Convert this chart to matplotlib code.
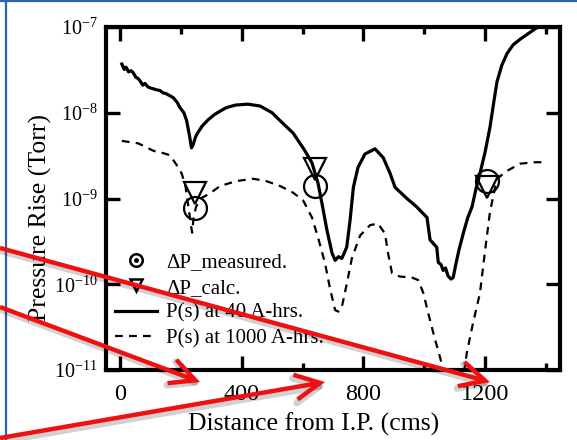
import numpy as np
import matplotlib
matplotlib.use("Agg")
import matplotlib.pyplot as plt
from matplotlib.lines import Line2D
from matplotlib.patches import FancyArrowPatch
from matplotlib.legend_handler import HandlerTuple
from matplotlib.ticker import MultipleLocator, LogLocator, NullLocator

plt.rcParams['font.family'] = ['Liberation Serif', 'DejaVu Serif']
plt.rcParams['mathtext.fontset'] = 'custom'
plt.rcParams['mathtext.rm'] = 'Liberation Serif'

# P(s) at 40 A-hrs (solid)
x40 = [6, 14, 20, 28, 36, 43, 52, 60, 66, 75, 82, 92, 99, 110, 120, 131, 142, 150,
       164, 175, 188, 197, 210, 219, 228, 235, 240, 248, 255, 270, 290, 310, 330,
       350, 380, 420, 460, 500, 526, 569, 608, 631, 651, 664, 680, 697, 707, 718,
       729, 745, 756, 767, 782, 805, 838, 865, 888, 904, 943, 975, 1009, 1019,
       1041, 1046, 1055, 1062, 1070, 1078, 1088, 1095, 1105, 1115, 1128, 1143,
       1157, 1170, 1183, 1200, 1216, 1228, 1239, 1255, 1272, 1292, 1315, 1340,
       1364, 1390]
p40 = [3.7e-8, 3.2e-8, 3.4e-8, 3.0e-8, 3.1e-8, 2.95e-8, 2.6e-8, 2.5e-8, 2.35e-8,
       2.1e-8, 2.2e-8, 2.0e-8, 1.95e-8, 1.9e-8, 1.85e-8, 1.82e-8, 1.7e-8, 1.68e-8,
       1.58e-8, 1.5e-8, 1.32e-8, 1.15e-8, 1.0e-8, 8.1e-9, 5.5e-9, 3.9e-9, 4.2e-9,
       5.2e-9, 5.8e-9, 7.0e-9, 8.3e-9, 9.5e-9, 1.05e-8, 1.15e-8, 1.23e-8, 1.26e-8,
       1.2e-8, 1.0e-8, 8.1e-9, 5.8e-9, 3.6e-9, 2.6e-9, 1.5e-9, 8.7e-10, 4.3e-10,
       2.3e-10, 1.9e-10, 2.1e-10, 2.0e-10, 2.7e-10, 5.5e-10, 1.35e-9, 2.3e-9,
       3.3e-9, 3.8e-9, 3.0e-9, 1.95e-9, 1.35e-9, 1.0e-9, 8.0e-10, 6.0e-10, 3.3e-10,
       2.7e-10, 1.8e-10, 1.7e-10, 1.45e-10, 1.55e-10, 1.25e-10, 1.15e-10, 1.2e-10,
       1.8e-10, 2.6e-10, 3.9e-10, 6.0e-10, 8.0e-10, 1.3e-9, 1.95e-9, 3.5e-9, 6.8e-9,
       1.3e-8, 2.3e-8, 3.6e-8, 4.9e-8, 6.2e-8, 7.2e-8, 8.3e-8, 9.5e-8, 1.08e-7]

# P(s) at 1000 A-hrs (dashed)
x1000 = [6, 60, 110, 140, 164, 185, 203, 215, 225, 233, 237, 242, 250, 265, 296,
         329, 384, 438, 480, 526, 569, 602, 631, 651, 674, 690, 707, 718, 729, 745,
         762, 789, 822, 848, 871, 881, 894, 920, 959, 980, 997, 1013, 1035, 1052,
         1065, 1095, 1130, 1140, 1160, 1183, 1200, 1216, 1225, 1239, 1272, 1315,
         1364, 1400]
p1000 = [4.7e-9, 4.4e-9, 3.6e-9, 3.4e-9, 3.2e-9, 2.5e-9, 1.95e-9, 1.4e-9, 8e-10,
         5e-10, 4.0e-10, 6e-10, 8e-10, 1.0e-9, 1.15e-9, 1.4e-9, 1.6e-9, 1.7e-9,
         1.6e-9, 1.4e-9, 1.17e-9, 9.5e-10, 6e-10, 3.5e-10, 1.75e-10, 9e-11, 5e-11,
         4.8e-11, 5.4e-11, 1.0e-10, 2.0e-10, 3.7e-10, 4.9e-10, 5.1e-10, 3.9e-10,
         2.3e-10, 1.35e-10, 1.23e-10, 1.2e-10, 1.12e-10, 7.9e-11, 4.6e-11, 2.3e-11,
         1.4e-11, 9e-12, 5e-12, 9e-12, 1.6e-11, 3.5e-11, 7.9e-11, 2.5e-10, 7.0e-10,
         1.0e-9, 1.7e-9, 2.1e-9, 2.55e-9, 2.65e-9, 2.65e-9]

# point markers
x_meas = [245, 641, 1206]
p_meas = [7.7e-10, 1.4e-9, 1.6e-9]
x_calc = [245, 641, 1206]
p_calc = [1.15e-9, 2.2e-9, 1.35e-9]

labels = ['\u0394P_measured.', '\u0394P_calc.', 'P(s) at 40 A-hrs.', 'P(s) at 1000 A-hrs.']
xtick_major = [0, 400, 800, 1200]

fig = plt.figure(figsize=(5.77, 4.40), dpi=100)
ax = fig.add_axes([0.1837, 0.159, 0.7868, 0.7796])

ax.plot(x40, p40, color='black', lw=2.3, solid_joinstyle='round')
ax.plot(x1000, p1000, color='black', lw=1.6, dashes=(3.5, 2.8))
ax.plot(x_meas, p_meas, ls='none', marker='o', ms=16.5, mfc='none', mec='black', mew=1.6)
ax.plot(x_calc, p_calc, ls='none', marker='v', ms=16, mfc='none', mec='black', mew=1.6)

ax.set_yscale('log')
ax.set_xlim(-46, 1446)
ax.set_ylim(1e-11, 1e-7)
ax.xaxis.set_major_locator(plt.FixedLocator(xtick_major))
ax.xaxis.set_minor_locator(MultipleLocator(200))
ax.yaxis.set_major_locator(LogLocator(base=10, numticks=10))
ax.yaxis.set_minor_locator(NullLocator())

for s in ax.spines.values():
    s.set_linewidth(3)
ax.tick_params(which='both', direction='in', top=True, right=True, width=2.4)
ax.tick_params(which='major', length=10)
ax.tick_params(which='minor', length=5)
ax.tick_params(axis='x', which='major', labelsize=17.5, pad=10)
ax.tick_params(axis='y', which='major', labelsize=14.5, pad=6)

ax.set_xlabel('Distance from I.P. (cms)', fontsize=18.5)
ax.xaxis.set_label_coords(0.458, -0.125)
ax.set_ylabel('Pressure Rise (Torr)', fontsize=18.5)
ax.yaxis.set_label_coords(-0.12, 0.445)

h_meas = (Line2D([], [], ls='none', marker='o', ms=9, mfc='none', mec='black', mew=1.8),
          Line2D([], [], ls='none', marker='o', ms=2.5, mfc='black', mec='black'))
h_calc = Line2D([], [], ls='none', marker='v', ms=9, mfc='none', mec='black', mew=1.8)
h40 = Line2D([], [], color='black', lw=2.3)
h1000 = Line2D([], [], color='black', lw=1.6, dashes=(3.5, 2.8))
ax.legend([h_meas, h_calc, h40, h1000], labels, loc='lower left',
          bbox_to_anchor=(0.02, 0.064), frameon=False, fontsize=15, borderpad=0,
          borderaxespad=0, handlelength=2.0, handletextpad=0.45, labelspacing=0.27,
          handler_map={tuple: HandlerTuple(ndivide=1)})

# slide border
fig.add_artist(Line2D([0.011, 0.011], [0, 1], transform=fig.transFigure, color='#2a64b0', lw=1.6))
fig.add_artist(Line2D([0, 1], [0.998, 0.998], transform=fig.transFigure, color='#2a64b0', lw=1.6))

# red annotation arrows (with a faint drop shadow)
arrows = [((0.0, 0.4364), (0.8492, 0.1318)),
          ((0.0, 0.3023), (0.3466, 0.1318)),
          ((0.0, 0.0045), (0.5633, 0.1318))]
dx, dy = 2 / 577, -3 / 440
for a, b in arrows:
    fig.add_artist(FancyArrowPatch((a[0] + dx, a[1] + dy), (b[0] + dx, b[1] + dy),
                                   transform=fig.transFigure,
                                   arrowstyle='->,head_length=1.0,head_width=0.5',
                                   mutation_scale=18, color='black', alpha=0.18, lw=5,
                                   zorder=9, shrinkA=0, shrinkB=0))
    fig.add_artist(FancyArrowPatch(a, b, transform=fig.transFigure,
                                   arrowstyle='->,head_length=1.0,head_width=0.5',
                                   mutation_scale=18, color='#f01010', lw=3.2, zorder=10,
                                   shrinkA=0, shrinkB=0, joinstyle='miter', capstyle='butt'))

fig.savefig('out.png', dpi=100)
